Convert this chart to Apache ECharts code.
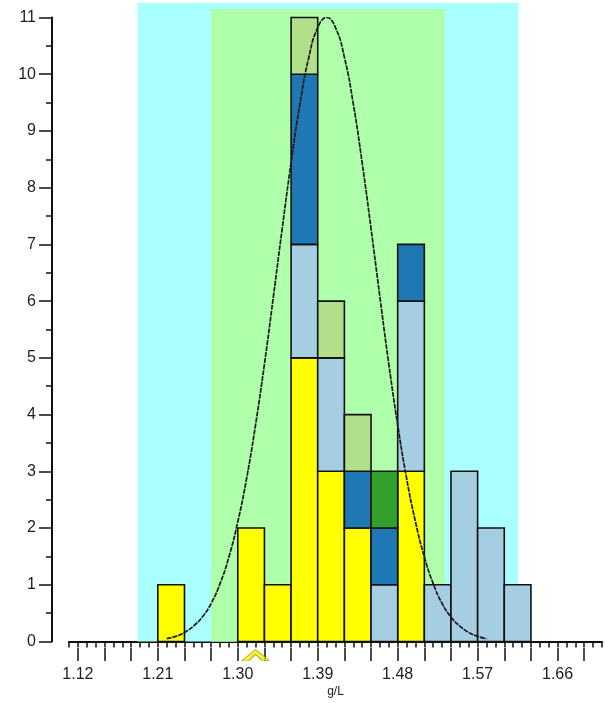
<!DOCTYPE html>
<html>
<head>
<meta charset="utf-8">
<script src="https://cdn.jsdelivr.net/npm/echarts@6/dist/echarts.min.js"></script>
<style>
  html, body { margin: 0; padding: 0; background: #fff; }
  #chart { width: 605px; height: 703px; }
</style>
</head>
<body>
<div id="chart"></div>
<script>
// Histogram bins (left edge, g/L) and common bin width
const binStarts = [1.21, 1.30, 1.33, 1.36, 1.39, 1.42, 1.45, 1.48, 1.51, 1.54, 1.57, 1.60];
const binWidth = 0.03;

// Counts per group, stacked bottom to top in this order
const countsYellow    = [1, 2, 1, 5, 3, 2, 0, 3, 0, 0, 0, 0];
const countsLightBlue = [0, 0, 0, 2, 2, 0, 1, 3, 1, 3, 2, 1];
const countsDarkBlue  = [0, 0, 0, 3, 0, 1, 1, 1, 0, 0, 0, 0];
const countsGreen     = [0, 0, 0, 0, 0, 0, 1, 0, 0, 0, 0, 0];
const countsPaleGreen = [0, 0, 0, 1, 1, 1, 0, 0, 0, 0, 0, 0];

// Reference ranges: [from, to, top]
const outerRange = [1.187, 1.616, 11.26];
const innerRange = [1.270, 1.533, 11.15];

// Fitted distribution curve
const curveX = [1.22, 1.23, 1.24, 1.25, 1.26, 1.27, 1.28, 1.29, 1.30, 1.31, 1.32, 1.33, 1.34,
  1.35, 1.36, 1.37, 1.38, 1.39, 1.40, 1.41, 1.42, 1.43, 1.44, 1.45, 1.46, 1.47, 1.48, 1.49,
  1.50, 1.51, 1.52, 1.53, 1.54, 1.55, 1.56, 1.57, 1.58];
const curveY = [0.05, 0.09, 0.16, 0.27, 0.43, 0.67, 1.02, 1.49, 2.11, 2.88, 3.82, 4.89, 6.07,
  7.28, 8.44, 9.48, 10.30, 10.82, 11.00, 10.82, 10.30, 9.48, 8.44, 7.28, 6.07, 4.89, 3.82, 2.88,
  2.11, 1.49, 1.02, 0.67, 0.43, 0.27, 0.16, 0.09, 0.05];

// Target marker position on the x axis
const targetValue = 1.32;

// Axis tick/label values
const xMajorLabels = [1.12, 1.21, 1.30, 1.39, 1.48, 1.57, 1.66];
const xLongTicks = [1.12, 1.15, 1.18, 1.21, 1.24, 1.27, 1.30, 1.33, 1.36, 1.39, 1.42, 1.45,
  1.48, 1.51, 1.54, 1.57, 1.60, 1.63, 1.66, 1.69];

const groups = [
  { name: 'yellow', counts: countsYellow, color: '#ffff00' },
  { name: 'lightBlue', counts: countsLightBlue, color: '#a6cee3' },
  { name: 'darkBlue', counts: countsDarkBlue, color: '#1f78b4' },
  { name: 'green', counts: countsGreen, color: '#33a02c' },
  { name: 'paleGreen', counts: countsPaleGreen, color: '#b2df8a' }
];

// Build stacked segments: [x0, base, top]
const base = binStarts.map(() => 0);
const stackSeries = groups.map(g => {
  const data = [];
  g.counts.forEach((c, i) => {
    if (c > 0) {
      data.push([binStarts[i], base[i], base[i] + c]);
      base[i] += c;
    }
  });
  return {
    type: 'custom',
    name: g.name,
    clip: false,
    z: 3,
    data: data,
    renderItem: function (params, api) {
      const x0 = api.value(0);
      const p1 = api.coord([x0, api.value(2)]);
      const p2 = api.coord([x0 + binWidth, api.value(1)]);
      return {
        type: 'rect',
        shape: { x: p1[0], y: p1[1], width: p2[0] - p1[0], height: p2[1] - p1[1] },
        style: { fill: g.color, stroke: '#111', lineWidth: 1.6 }
      };
    }
  };
});

const chart = echarts.init(document.getElementById('chart'));
const textColor = '#1c1c2a';

chart.setOption({
  animation: false,
  backgroundColor: '#ffffff',
  grid: { left: 69, right: 3, top: 17.5, bottom: 60 },
  xAxis: [
    {
      type: 'value', min: 1.11, max: 1.71, interval: 0.01,
      position: 'bottom', offset: 6.5,
      axisLine: { show: true, lineStyle: { color: '#111', width: 2 } },
      axisTick: { show: true, length: 6, lineStyle: { color: '#111', width: 1.5 } },
      axisLabel: { show: false },
      splitLine: { show: false },
      name: 'g/L', nameLocation: 'middle', nameGap: 38,
      nameTextStyle: { fontFamily: 'Liberation Sans, Arial', fontSize: 12, color: textColor }
    },
    {
      type: 'value', min: 1.11, max: 1.71,
      position: 'bottom', offset: 6.5,
      axisLine: { show: false },
      axisTick: { show: true, length: 13, customValues: xLongTicks, lineStyle: { color: '#111', width: 1.5 } },
      axisLabel: {
        show: true, customValues: xMajorLabels, margin: 19,
        fontFamily: 'Liberation Sans, Arial', fontSize: 16, color: textColor,
        formatter: v => v.toFixed(2)
      },
      splitLine: { show: false }
    }
  ],
  yAxis: {
    type: 'value', min: 0, max: 11, interval: 1, offset: 17,
    axisLine: { show: true, lineStyle: { color: '#111', width: 2 } },
    axisTick: { show: true, length: 13, lineStyle: { color: '#111', width: 1.5 } },
    minorTick: { show: true, splitNumber: 2, length: 6, lineStyle: { color: '#111', width: 1.5 } },
    axisLabel: { margin: 16, fontFamily: 'Liberation Sans, Arial', fontSize: 16, color: textColor },
    splitLine: { show: false }
  },
  series: [
    {
      type: 'custom',
      name: 'ranges',
      clip: false,
      z: 1,
      data: [
        [outerRange[0], outerRange[1], outerRange[2], 0],
        [innerRange[0], innerRange[1], innerRange[2], 1]
      ],
      renderItem: function (params, api) {
        const p1 = api.coord([api.value(0), api.value(2)]);
        const p2 = api.coord([api.value(1), 0]);
        return {
          type: 'rect',
          shape: { x: p1[0], y: p1[1], width: p2[0] - p1[0], height: p2[1] - p1[1] },
          style: { fill: api.value(3) === 0 ? '#aaffff' : '#b0ffaa' }
        };
      }
    },
    ...stackSeries,
    {
      type: 'line',
      name: 'fit',
      z: 5,
      smooth: true,
      showSymbol: false,
      data: curveX.map((x, i) => [x, curveY[i]]),
      lineStyle: { color: '#1a1a1a', width: 1.7, type: [5, 1] }
    },
    {
      type: 'scatter',
      name: 'target',
      clip: false,
      z: 6,
      data: [[targetValue, 0]],
      symbol: 'path://M0,11 L13.5,0 L27,11 L20,11 L13.5,5 L7,11 Z',
      symbolSize: [27, 11],
      symbolOffset: [0, 13.5],
      itemStyle: { color: '#f2f200', borderColor: '#8a8a00', borderWidth: 0.8 }
    }
  ]
});
</script>
</body>
</html>
